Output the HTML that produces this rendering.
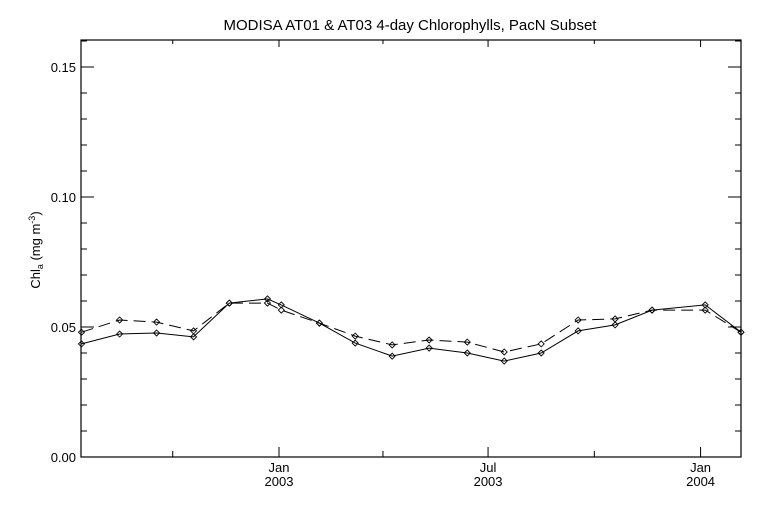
<!DOCTYPE html>
<html><head><meta charset="utf-8"><style>
body{margin:0;background:#fff}
svg text{font-family:"Liberation Sans",sans-serif;fill:#000}
</style></head><body>
<svg width="768" height="512" xmlns="http://www.w3.org/2000/svg" id="c">
<text x="410" y="30" font-size="15" text-anchor="middle">MODISA AT01 &amp; AT03 4-day Chlorophylls, PacN Subset</text>
<text transform="translate(40,250) rotate(-90)" font-size="13" text-anchor="middle">Chl<tspan font-size="9" dy="3">a</tspan><tspan dy="-3"> (mg m</tspan><tspan font-size="9" dy="-5">-3</tspan><tspan dy="5">)</tspan></text>
<rect x="81" y="40" width="660" height="417" fill="none" stroke="#000" stroke-width="1.2"/>
<g id="axes"></g>
<g id="series"></g>
</svg>
<script>
const days = [-171,-138,-106,-74,-43,-10,2,35,66,98,130,163,195,227,259,291,323,369,400];
const at01 = [0.0435,0.0473,0.0477,0.0462,0.0592,0.0608,0.0585,0.0515,0.0438,0.0388,0.0419,0.0400,0.0369,0.0400,0.0485,0.0508,0.0565,0.0585,0.0480];
const at03 = [0.0480,0.0527,0.0519,0.0485,0.0592,0.0592,0.0565,0.0515,0.0465,0.0431,0.0450,0.0442,0.0404,0.0435,0.0527,0.0531,0.0565,0.0565,0.0480];
const yTicks = [0, 0.05, 0.10, 0.15];
const yTickLabels = ["0.00","0.05","0.10","0.15"];
const xMajor = [0, 181, 365];
const xMajorLabels = [["Jan","2003"],["Jul","2003"],["Jan","2004"]];
const xMinor = [-92, 90, 273];

const NS="http://www.w3.org/2000/svg";
const X = d => 279 + d*1.155;
const Y = v => 457 - v*2600;
function mk(tag, attrs, parent){const e=document.createElementNS(NS,tag);for(const k in attrs)e.setAttribute(k,attrs[k]);parent.appendChild(e);return e;}
const ax=document.getElementById('axes'), se=document.getElementById('series');
const L=81,R=741,T=40,B=457;
// y ticks major and minor
for(let i=0;i<=16;i++){const v=i*0.01, y=Y(v); if(y<T) break;
  const len = (i%5===0)?13:6;
  let t=mk('line',{x1:L,x2:L+len,y1:y,y2:y,stroke:'#000'},ax);
  
  
  t=mk('line',{x1:R,x2:R-len,y1:y,y2:y,stroke:'#000'},ax);
  
  
}
yTicks.forEach((v,i)=>{const t=mk('text',{x:L-5,y:Y(v)+5,'font-size':13,'text-anchor':'end'},ax);t.textContent=yTickLabels[i];
  
  });
xMajor.forEach((d,i)=>{const x=X(d);
  let t=mk('line',{x1:x,x2:x,y1:B,y2:B-10,stroke:'#000'},ax);
  
  
  t=mk('line',{x1:x,x2:x,y1:T,y2:T+7,stroke:'#000'},ax);
  
  
  xMajorLabels[i].forEach((s,j)=>{const tx=mk('text',{x:x,y:B+15+j*14,'font-size':13,'text-anchor':'middle'},ax);tx.textContent=s;
    
    });
});
xMinor.forEach(d=>{const x=X(d);
  let t=mk('line',{x1:x,x2:x,y1:B,y2:B-6,stroke:'#000'},ax);
  
  
  t=mk('line',{x1:x,x2:x,y1:T,y2:T+4,stroke:'#000'},ax);
  
  
});
function series(vals,name,dash){
  const pts=days.map((d,i)=>X(d).toFixed(1)+','+Y(vals[i]).toFixed(1)).join(' ');
  const p=mk('polyline',{points:pts,fill:'none',stroke:'#000','stroke-width':1,'stroke-dasharray':dash||'none'},se);
  
  
  days.forEach((d,i)=>{const x=X(d),y=Y(vals[i]);
    const m=mk('polygon',{points:`${x-3},${y} ${x},${y-3} ${x+3},${y} ${x},${y+3}`,fill:'none',stroke:'#000','stroke-width':0.9},se);
    
    });
}
series(at01,'at01',null);
series(at03,'at03','12 6');
</script>
</body></html>
